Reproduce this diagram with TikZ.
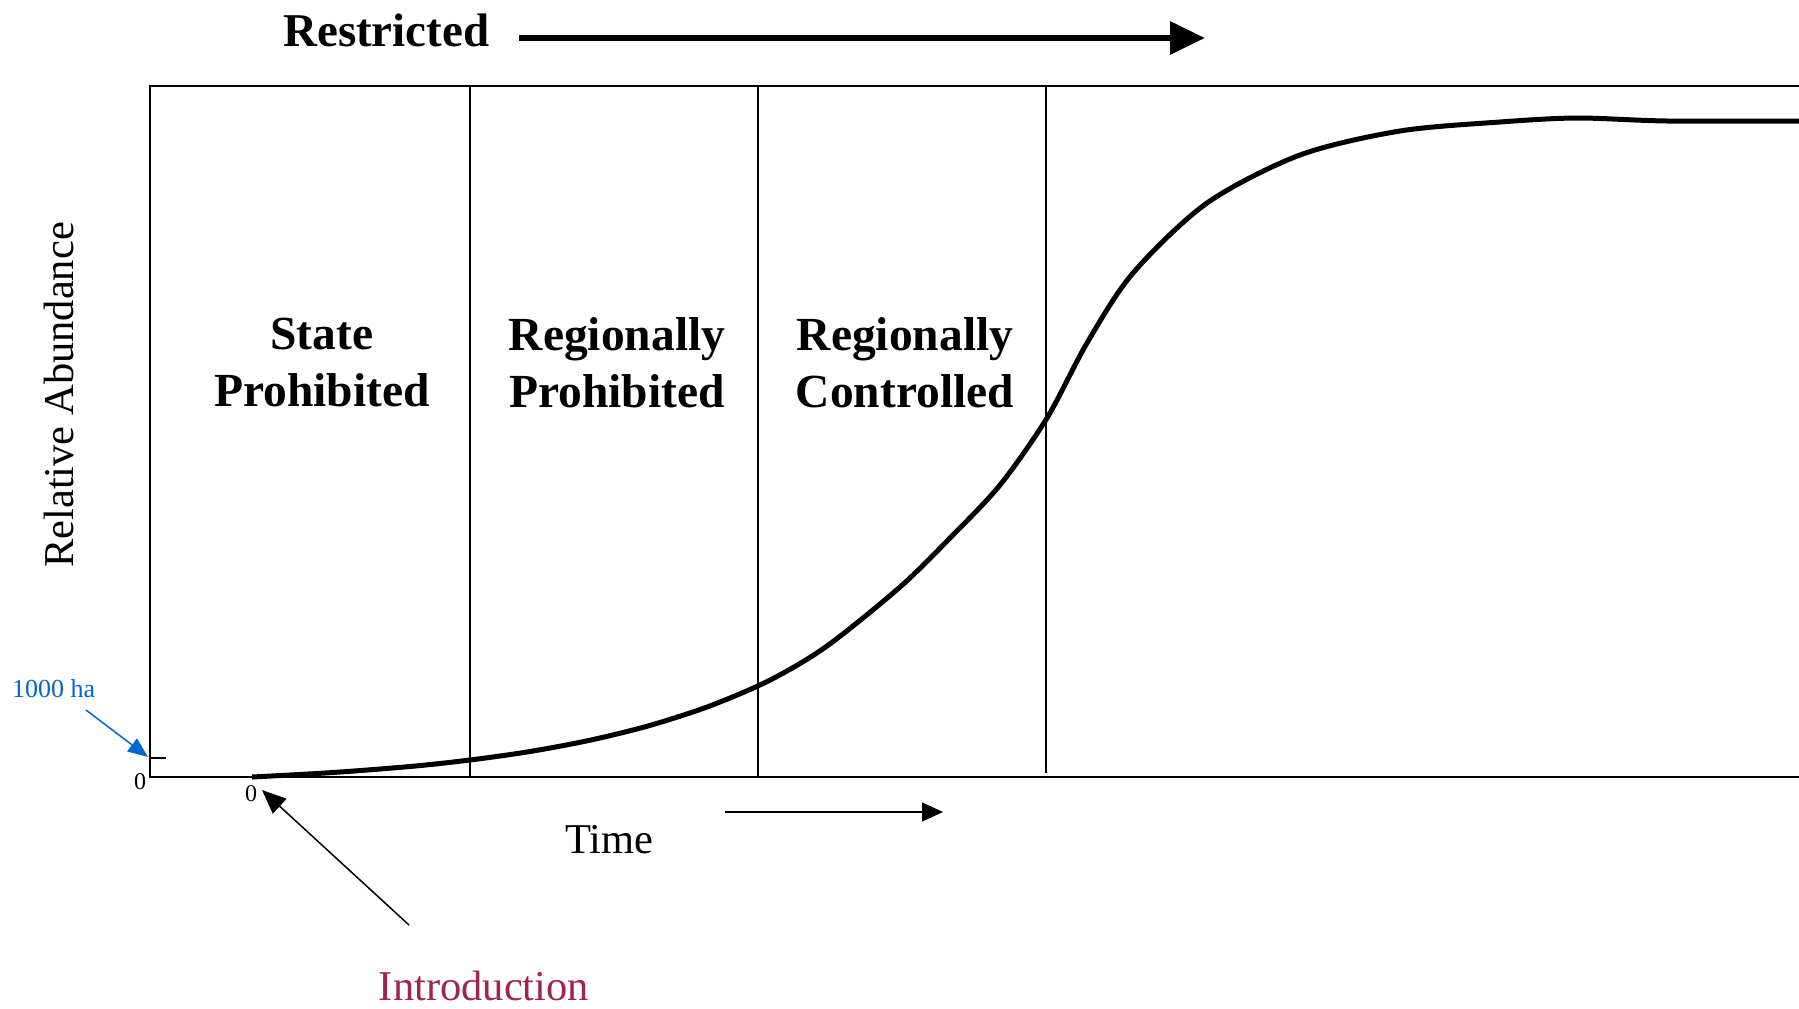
\documentclass[tikz,border=0pt]{standalone}
\usepackage{fontspec}
\setmainfont{Liberation Serif}
\usetikzlibrary{arrows.meta}
\definecolor{introcol}{RGB}{158,36,82}
\definecolor{hablue}{RGB}{0,102,204}
\begin{document}
\begin{tikzpicture}[x=1pt,y=-1pt,
  frame/.style={line width=1.8pt},
  sep/.style={line width=1.5pt},
  phase/.style={font=\fontsize{47.5}{57}\selectfont\bfseries, align=center, inner sep=0pt},
  lbl/.style={font=\fontsize{42.5}{50}\selectfont, inner sep=0pt},
  small/.style={font=\fontsize{24}{28}\selectfont, inner sep=0pt},
  curve/.style={line width=5pt, line join=round},
  thinarrow/.style={line width=1.5pt, -{Triangle[length=21pt,width=19pt]}},
]
\useasboundingbox (0,0) rectangle (1799,1009);
% frame and separators
\draw[frame] (1799,86) -- (150,86) -- (150,777) -- (1799,777);
\draw[sep] (470,86) -- (470,777);
\draw[sep] (758,86) -- (758,777);
\draw[sep] (1046,86) -- (1046,773);
\draw[frame] (150,758) -- (166,758);
% growth curve
\draw[curve] plot[smooth, tension=0.5] coordinates {(252,777) (330,772.7) (410,766.5) (470,760) (530,751.5) (590,740.2) (650,725.4) (710,705.9) (770,680.1) (827,646) (900,587) (950,538) (1000,485) (1047,418) (1087,343) (1133,273) (1207,203) (1300,155) (1400,131) (1500,122) (1577,118) (1667,121) (1799,121)};
% phase labels
\node[phase] (sp) at (322,363) {State\\Prohibited};
\node[phase] (rp) at (617,363) {Regionally\\Prohibited};
\node[phase] (rc) at (905,363) {Regionally\\Controlled};
% restricted
\node[font=\fontsize{47}{56}\selectfont\bfseries, anchor=base west, inner sep=0pt] (restr) at (283,46) {Restricted};
\coordinate (restrStart) at (519,38);
\coordinate (restrEnd) at (1205,38);
\draw[line width=6.5pt, -{Triangle[length=35pt,width=32pt]}] (restrStart) -- (restrEnd);
% axis labels
\node[lbl, rotate=90, anchor=base] (ra) at (73,395) {Relative Abundance};
\node[lbl, anchor=base west] (time) at (565,853) {Time};
\coordinate (tA) at (725,812);
\coordinate (tB) at (943,812);
\draw[thinarrow] (tA) -- (tB);
% zeros
\node[small] (z1) at (140,782) {0};
\node[small] (z2) at (251,794) {0};
% introduction
\node[lbl, anchor=base, text=introcol] (intro) at (484,1000) {Introduction};
\coordinate (introTail) at (409,925);
\coordinate (introTip) at (262,790);
\draw[line width=1.5pt, -{Triangle[length=24pt,width=20pt]}] (introTail) -- (introTip);
% 1000 ha
\node[font=\fontsize{26}{30}\selectfont, text=hablue, anchor=base west, inner sep=0pt] (ha) at (12,697) {1000 ha};
\coordinate (haTail) at (86,710);
\coordinate (haTip) at (148,757);
\draw[hablue, line width=1.5pt, -{Triangle[length=20pt,width=16pt]}] (haTail) -- (haTip);
\end{tikzpicture}
\end{document}
